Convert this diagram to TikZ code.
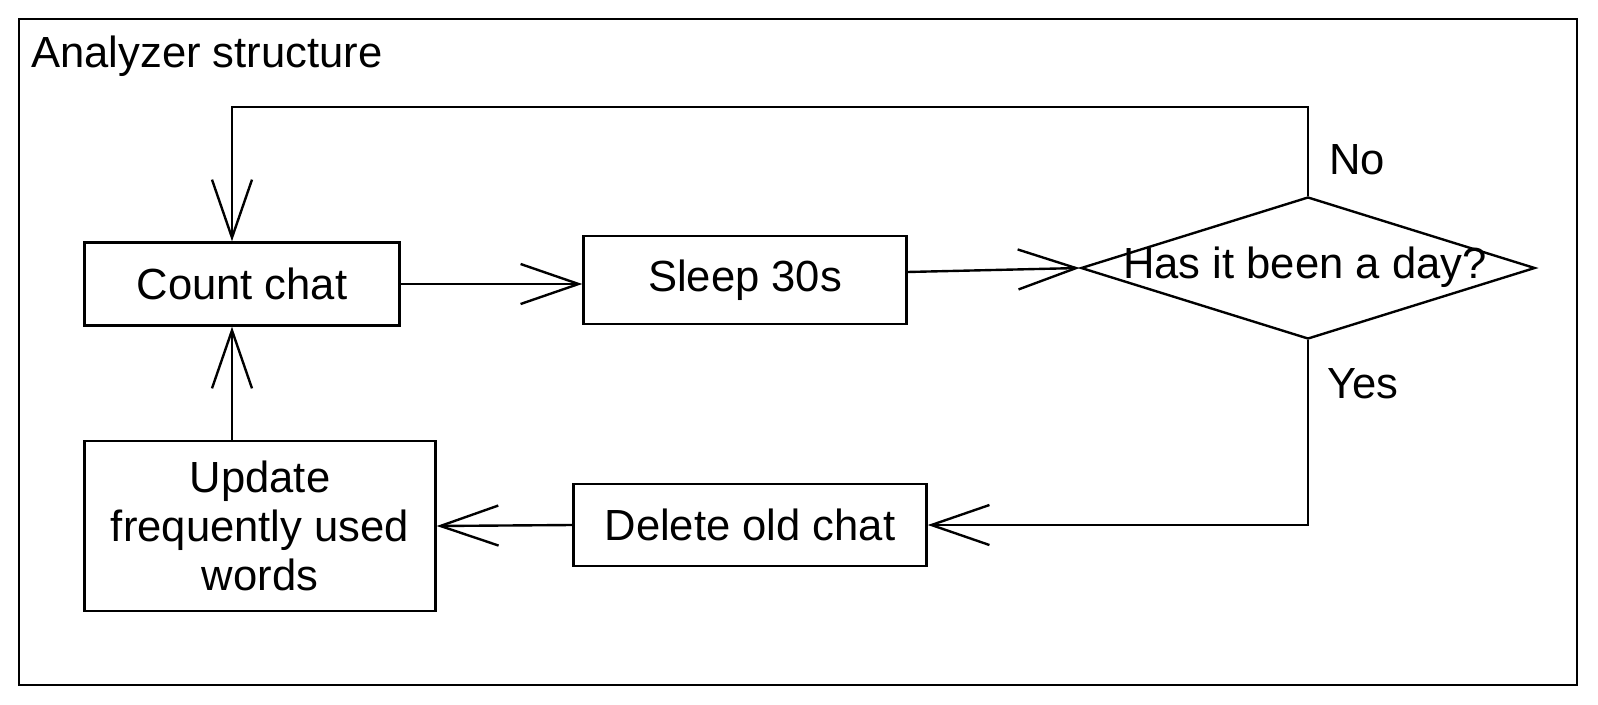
\documentclass[tikz,border=0pt]{standalone}
\usepackage{fontspec}
\setmainfont{Liberation Sans}
\usetikzlibrary{arrows.meta,shapes.geometric}
\begin{document}
\begin{tikzpicture}[x=0.025cm,y=-0.025cm,
  ln/.style={line width=1.7pt, draw=black},
  txt/.style={font=\fontsize{31}{35}\selectfont, inner sep=0pt, align=center},
  box/.style={ln, rectangle, inner sep=0pt, txt},
  arr/.style={ln, -{Straight Barb[length=1.45cm,width=1.0cm,line width=1.7pt]}},
]
\useasboundingbox (0,0) rectangle (1598,704);
% frame
\node[ln, rectangle, inner sep=0pt, minimum width=38.95cm, minimum height=16.65cm] (frame) at (798,352) {};
\node[txt, anchor=base west] (title) at (31,67) {Analyzer structure};
% boxes
\node[box, minimum width=7.875cm, minimum height=2.075cm] (count) at (242,284) {Count chat};
\node[box, minimum width=8.075cm, minimum height=2.2cm] (sleep) at (745,280) {Sleep 30s};
\node[ln, diamond, inner sep=0pt, minimum width=11.35cm, minimum height=3.55cm] (dec) at (1308,268) {};
\node[txt] (dect) at (1305,267) {Has it been a day?};
\node[box, minimum width=8.825cm, minimum height=2.05cm] (del) at (750,525) {Delete old chat};
\node[box, minimum width=8.775cm, minimum height=4.25cm] (upd) at (260,526) {Update\\frequently used\\words};
% labels
\node[txt] (no) at (1357,160) {No};
\node[txt] (yes) at (1363,384) {Yes};
% connectors
\coordinate (topc) at (232,107);
\coordinate (sl) at (907,272);
\draw[arr] (count.east) -- (count.east -| sleep.west);
\draw[arr] (sl) -- (dec.west);
\draw[arr] (dec.north) |- (topc) -- (topc |- count.north);
\draw[arr] (dec.south) |- (del.east);
\draw[arr] (del.west) -- (upd.east);
\draw[arr] (upd.north -| topc) -- (count.south -| topc);
\end{tikzpicture}
\end{document}
